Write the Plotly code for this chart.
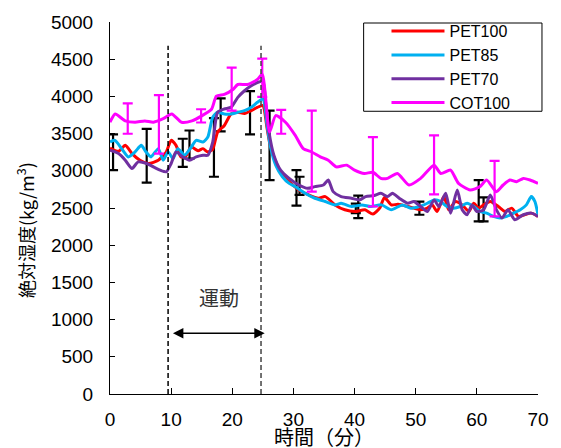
import plotly.graph_objects as go

# ---------------- data ----------------
t_pet100 = [0, 1.4, 2.5, 3.6, 4.9, 6.3, 7.9, 9.2, 10.0, 10.8, 11.6, 12.4, 13.3, 14.4, 15.2, 16.0, 16.8, 17.6, 18.7, 19.8,
            20.9, 22.0, 23.1, 24.1, 25.0, 25.7, 26.2, 27.1, 28.2, 29.6, 30.9, 32.5, 34.1, 35.2, 36.8, 38.4, 40.1, 41.7,
            43.0, 44.1, 44.9, 46.0, 47.1, 48.7, 49.7, 50.8, 51.9, 52.7, 53.5, 54.6, 55.4, 56.5, 57.6, 58.7, 59.5, 60.3,
            61.1, 62.2, 63.5, 64.6, 65.7, 66.8, 67.8, 68.9, 70]
v_pet100 = [3307, 3262, 3342, 3231, 3142, 3098, 3142, 3253, 3409, 3342, 3187, 3200, 3320, 3270, 3298, 3253, 3290, 3520, 3609,
            3764, 3787, 3770, 3809, 3853, 3876, 3564, 3342, 3120, 2942, 2831, 2742, 2676, 2631, 2653, 2542, 2476, 2453,
            2476, 2418, 2498, 2640, 2542, 2550, 2520, 2498, 2476, 2498, 2542, 2453, 2653, 2476, 2587, 2542, 2453, 2564,
            2498, 2542, 2587, 2520, 2453, 2498, 2387, 2409, 2431, 2387]

t_pet85 = [0, 0.8, 1.9, 3.0, 4.1, 5.1, 5.9, 6.7, 7.9, 8.7, 9.5, 10.3, 11.1, 12.2, 13.3, 14.1, 15.2, 16.0, 16.8, 17.6, 18.7,
           19.8, 20.9, 22.0, 23.1, 24.1, 25.0, 25.7, 26.2, 27.1, 28.2, 29.3, 30.3, 31.9, 33.5, 35.2, 36.8, 37.8, 39.5,
           41.2, 42.7, 44.4, 46.0, 47.8, 49.2, 50.6, 51.9, 53.0, 54.1, 55.1, 56.2, 57.3, 58.4, 59.5, 60.5, 61.6, 62.7,
           63.8, 64.9, 66.0, 67.1, 68.1, 68.9, 69.5, 70]
v_pet85 = [3387, 3409, 3298, 3187, 3253, 3342, 3253, 3187, 3298, 3142, 3253, 3164, 3298, 3209, 3320, 3409, 3387, 3453, 3720,
           3787, 3764, 3764, 3787, 3809, 3853, 3920, 3964, 3609, 3342, 3076, 2920, 2831, 2787, 2698, 2631, 2587, 2542,
           2564, 2520, 2542, 2520, 2542, 2476, 2542, 2498, 2520, 2564, 2609, 2587, 2520, 2498, 2520, 2564, 2520, 2453,
           2431, 2387, 2364, 2387, 2431, 2476, 2542, 2653, 2587, 2409]

t_pet70 = [0, 1.4, 2.5, 3.6, 4.6, 6.0, 7.1, 8.2, 9.2, 10.0, 10.8, 11.9, 13.0, 14.1, 15.2, 16.0, 16.8, 17.6, 18.7, 19.8,
           20.9, 22.0, 23.1, 24.1, 25.0, 25.5, 26.0, 26.8, 27.9, 29.3, 30.9, 32.3, 33.5, 34.9, 35.7, 36.5, 37.8, 39.5,
           40.8, 41.8, 43.2, 44.3, 45.4, 46.2, 47.3, 48.7, 49.7, 50.8, 51.9, 53.0, 53.8, 54.9, 55.7, 56.8, 57.6, 58.4,
           59.2, 60.0, 61.1, 62.2, 63.2, 64.1, 65.1, 66.2, 67.6, 68.9, 70]
v_pet70 = [3276, 3231, 3142, 3031, 3120, 3098, 3053, 3009, 2987, 3098, 3253, 3187, 3142, 3187, 3209, 3209, 3387, 3787, 3831,
           3853, 3987, 4076, 4142, 4187, 4200, 3876, 3520, 3209, 3009, 2898, 2809, 2764, 2787, 2809, 2876, 2720, 2653,
           2631, 2609, 2653, 2667, 2698, 2653, 2698, 2631, 2564, 2587, 2520, 2453, 2609, 2520, 2698, 2431, 2742, 2476,
           2409, 2542, 2453, 2476, 2676, 2476, 2364, 2476, 2342, 2409, 2431, 2387]

t_cot100 = [0, 0.85, 2.5, 4.1, 5.7, 7.1, 8.7, 10.1, 11.7, 13.4, 15.0, 16.6, 17.4, 18.7, 20.1, 20.9, 22.5, 24.1, 24.9, 26.1,
            27.1, 28.7, 30.3, 31.6, 33.0, 34.4, 35.7, 37.0, 38.7, 40.0, 41.6, 43.0, 44.3, 45.4, 47.0, 48.9, 50.8, 53.0,
            54.1, 55.7, 57.0, 58.9, 60.5, 61.6, 63.2, 64.3, 65.4, 66.5, 67.6, 68.7, 70]
v_cot100 = [3653, 3764, 3671, 3653, 3671, 3653, 3700, 3764, 3653, 3671, 3738, 3827, 4004, 4027, 4093, 4160, 4160, 4227, 4298,
            3520, 3742, 3653, 3476, 3298, 3253, 3187, 3142, 3053, 3076, 3009, 2964, 2980, 2898, 2898, 2964, 2809, 2898,
            3076, 2964, 3009, 2831, 2742, 2787, 2876, 2720, 2809, 2876, 2853, 2898, 2876, 2831]

# error bars (black: PET series, magenta: COT100) - time, low, high
err_pet_t = [0.5, 6.0, 11.9, 13.0, 17.0, 18.1, 22.9, 26.1, 30.5, 31.0, 40.2, 40.6, 50.6, 60.3, 61.1]
err_pet_low = [3009, 2840, 3053, 3164, 2920, 3529, 3490, 2876, 2533, 2676, 2430, 2364, 2409, 2320, 2320]
err_pet_high = [3489, 3564, 3431, 3542, 3707, 3973, 4070, 3809, 3009, 2920, 2560, 2667, 2587, 2876, 2642]

err_cot_t = [2.9, 8.0, 14.9, 19.9, 24.9, 28.0, 33.0, 43.0, 53.0, 62.9]
err_cot_low = [3498, 3231, 3649, 3809, 3993, 3498, 2720, 2520, 2684, 2387]
err_cot_high = [3907, 4018, 3827, 4387, 4507, 3818, 3809, 3453, 3476, 3133]

series_names = ["PET100", "PET85", "PET70", "COT100"]
series_colors = ["#FF0000", "#00B0F0", "#7030A0", "#FF00FF"]

x_ticks = [0, 10, 20, 30, 40, 50, 60, 70]
y_ticks = [0, 500, 1000, 1500, 2000, 2500, 3000, 3500, 4000, 4500, 5000]

exercise_start, exercise_end = 9.5, 24.7
arrow_start, arrow_end = 10.05, 25.3
arrow_level = 817

JP = "Noto Sans CJK JP"
LAT = "Liberation Sans"

fig = go.Figure()


def err_trace(t, lo, hi, color):
    mid = [(a + b) / 2 for a, b in zip(lo, hi)]
    return go.Scatter(
        x=t, y=mid, mode="markers", showlegend=False, hoverinfo="skip",
        marker=dict(size=1, color="rgba(0,0,0,0)"),
        error_y=dict(type="data", symmetric=False,
                     array=[h - m for h, m in zip(hi, mid)],
                     arrayminus=[m - l for m, l in zip(mid, lo)],
                     color=color, thickness=2.2, width=5),
    )


fig.add_trace(err_trace(err_pet_t, err_pet_low, err_pet_high, "black"))

data = [(t_pet100, v_pet100), (t_pet85, v_pet85), (t_pet70, v_pet70), (t_cot100, v_cot100)]
for (t, v), name, col in zip(data, series_names, series_colors):
    if name == "COT100":
        fig.add_trace(err_trace(err_cot_t, err_cot_low, err_cot_high, col))
    fig.add_trace(go.Scatter(x=t, y=v, mode="lines", name=name,
                             line=dict(color=col, width=3, shape="spline", smoothing=0.6)))

# dashed exercise markers
for xv, c in [(exercise_start, "black"), (exercise_end, "#444444")]:
    fig.add_shape(type="line", x0=xv, x1=xv, y0=0, y1=4680, xref="x", yref="y",
                  line=dict(color=c, width=1.5, dash="5px,3px"))

# legend frame
fig.add_shape(type="rect", xref="paper", yref="paper", x0=0.5926, x1=1.0093, y0=0.76, y1=0.9973,
              line=dict(color="black", width=1), fillcolor="white", layer="above")

fig.add_annotation(x=arrow_end, y=arrow_level, ax=arrow_start, ay=arrow_level,
                   xref="x", yref="y", axref="x", ayref="y", text="",
                   showarrow=True, arrowhead=2, arrowside="end+start",
                   arrowsize=1.3, arrowwidth=1.6, arrowcolor="black")
fig.add_annotation(x=17.9, y=1293, xref="x", yref="y", text="運動", showarrow=False,
                   font=dict(family=JP, size=20, color="#333333"))

# axis titles
fig.add_annotation(x=0.5, y=-0.115, xref="paper", yref="paper", text="時間（分）", showarrow=False,
                   xanchor="center", yanchor="middle", font=dict(family=JP, size=20, color="black"))
fig.add_annotation(x=-0.197, y=0.44, xref="paper", yref="paper", text="絶対湿度(kg/m<sup>3</sup>)",
                   showarrow=False, textangle=-90, xanchor="center", yanchor="middle",
                   font=dict(family=JP, size=18, color="black"))

fig.update_layout(
    width=561, height=448,
    margin=dict(l=110, r=19, t=19, b=54),
    paper_bgcolor="white", plot_bgcolor="white",
    font=dict(family=LAT, size=19, color="black"),
    legend=dict(x=0.646, y=1.021, xanchor="left", yanchor="top",
                borderwidth=0, bgcolor="rgba(0,0,0,0)",
                itemwidth=53, entrywidth=110, entrywidthmode="pixels",
                font=dict(family=LAT, size=16, color="black"), tracegroupgap=0),
    xaxis=dict(range=[0, 70], tickvals=x_ticks, ticks="inside", ticklen=6, tickcolor="black",
               showline=True, linecolor="black", linewidth=1, showgrid=False, zeroline=False,
               ticklabelstandoff=8),
    yaxis=dict(range=[0, 5000], tickvals=y_ticks, ticks="inside", ticklen=5, tickcolor="black",
               showline=True, linecolor="black", linewidth=1, showgrid=False, zeroline=False,
               ticklabelstandoff=12),
)

fig.write_html("out.html", config={"displayModeBar": False},
               post_script="document.body.style.margin='0';document.body.style.padding='0';")
